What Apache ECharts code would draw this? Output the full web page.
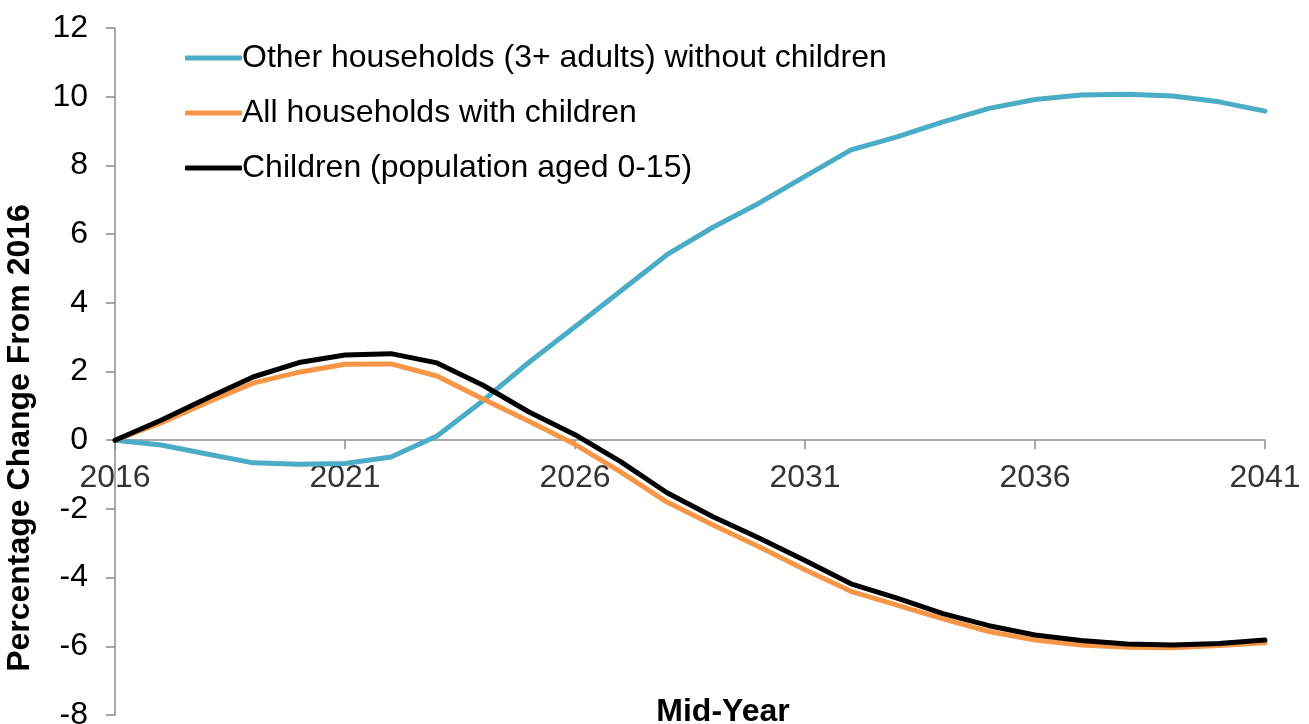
<!DOCTYPE html>
<html>
<head>
<meta charset="utf-8">
<script src="https://cdn.jsdelivr.net/npm/echarts@6/dist/echarts.min.js"></script>
<style>
  html, body { margin: 0; padding: 0; background: #fff; }
  #chart { width: 1309px; height: 724px; }
</style>
</head>
<body>
<div id="chart"></div>
<script>
// Mid-year projections, percentage change from 2016
const years = [2016, 2017, 2018, 2019, 2020, 2021, 2022, 2023, 2024, 2025, 2026, 2027, 2028,
  2029, 2030, 2031, 2032, 2033, 2034, 2035, 2036, 2037, 2038, 2039, 2040, 2041];

const otherHouseholds = [0, -0.14, -0.4, -0.66, -0.7, -0.68, -0.49, 0.12, 1.15, 2.27, 3.3, 4.35,
  5.4, 6.2, 6.9, 7.68, 8.45, 8.83, 9.27, 9.66, 9.92, 10.05, 10.07, 10.02, 9.85, 9.58];

const householdsWithChildren = [0, 0.5, 1.1, 1.66, 1.98, 2.21, 2.22, 1.87, 1.2, 0.55, -0.12,
  -0.93, -1.8, -2.47, -3.1, -3.77, -4.4, -4.8, -5.2, -5.57, -5.82, -5.96, -6.03, -6.04, -5.98, -5.9];

const children = [0, 0.58, 1.22, 1.84, 2.26, 2.48, 2.52, 2.25, 1.6, 0.82, 0.16, -0.63, -1.53,
  -2.23, -2.85, -3.5, -4.18, -4.6, -5.05, -5.4, -5.67, -5.83, -5.93, -5.96, -5.92, -5.82];

// Year labels shown along the zero line
const yearTicks = [2016, 2021, 2026, 2031, 2036, 2041];

const seriesNames = [
  'Other households (3+ adults) without children',
  'All households with children',
  'Children (population aged 0-15)'
];
const seriesColors = ['#4BACC6', '#F79646', '#000000'];

const yAxisTitle = 'Percentage Change From 2016';
const xAxisTitle = 'Mid-Year';

const font = '"Liberation Sans", Arial, sans-serif';
const axisGrey = '#8c8c8c';

function pairs(values) {
  return years.map((y, i) => [y, values[i]]);
}

const lineSeries = [otherHouseholds, householdsWithChildren, children].map((vals, i) => ({
  name: seriesNames[i],
  type: 'line',
  data: pairs(vals),
  showSymbol: false,
  symbol: 'none',
  smooth: false,
  color: seriesColors[i],
  lineStyle: { color: seriesColors[i], width: 5, cap: 'round', join: 'round' },
  z: 3 + i
}));

// Tick labels sit just under the x axis line, which crosses at zero
const yearLabelSeries = {
  name: 'year labels',
  type: 'scatter',
  data: yearTicks.map(y => [y, 0]),
  symbolSize: 0,
  silent: true,
  z: 2,
  label: {
    show: true,
    position: 'bottom',
    distance: 22,
    fontFamily: font,
    fontSize: 32,
    lineHeight: 32,
    color: '#000',
    formatter: p => String(p.value[0])
  }
};

const chart = echarts.init(document.getElementById('chart'));
chart.setOption({
  animation: false,
  backgroundColor: '#ffffff',
  textStyle: { fontFamily: font },
  grid: { left: 115, right: 44, top: 28, bottom: 9, containLabel: false, outerBoundsMode: 'none' },
  legend: {
    orient: 'vertical',
    left: 180,
    top: 35,
    icon: 'roundRect',
    itemWidth: 57,
    itemHeight: 5,
    itemGap: 19,
    data: seriesNames,
    textStyle: { fontFamily: font, fontSize: 32, color: '#000', lineHeight: 36, padding: [0, 0, 0, -5] }
  },
  xAxis: {
    type: 'value',
    min: 2016,
    max: 2041,
    interval: 5,
    axisLine: { onZero: true, lineStyle: { color: axisGrey, width: 1.5 } },
    axisTick: { show: true, inside: false, length: 9, lineStyle: { color: axisGrey, width: 1.5 } },
    axisLabel: { show: false },
    splitLine: { show: false }
  },
  yAxis: {
    type: 'value',
    min: -8,
    max: 12,
    interval: 2,
    axisLine: { show: true, onZero: false, lineStyle: { color: axisGrey, width: 1.5 } },
    axisTick: { show: true, length: 9, lineStyle: { color: axisGrey, width: 1.5 } },
    axisLabel: { fontFamily: font, fontSize: 32, color: '#000', margin: 27 },
    splitLine: { show: false }
  },
  graphic: [
    {
      type: 'text',
      x: 20,
      y: 438,
      rotation: Math.PI / 2,
      style: {
        text: yAxisTitle,
        fontFamily: font,
        fontSize: 32,
        fontWeight: 'bold',
        fill: '#000',
        align: 'center',
        verticalAlign: 'middle'
      }
    },
    {
      type: 'text',
      x: 723,
      y: 712,
      style: {
        text: xAxisTitle,
        fontFamily: font,
        fontSize: 32,
        fontWeight: 'bold',
        fill: '#000',
        align: 'center',
        verticalAlign: 'middle'
      }
    }
  ],
  series: lineSeries.concat([yearLabelSeries])
});
</script>
</body>
</html>
